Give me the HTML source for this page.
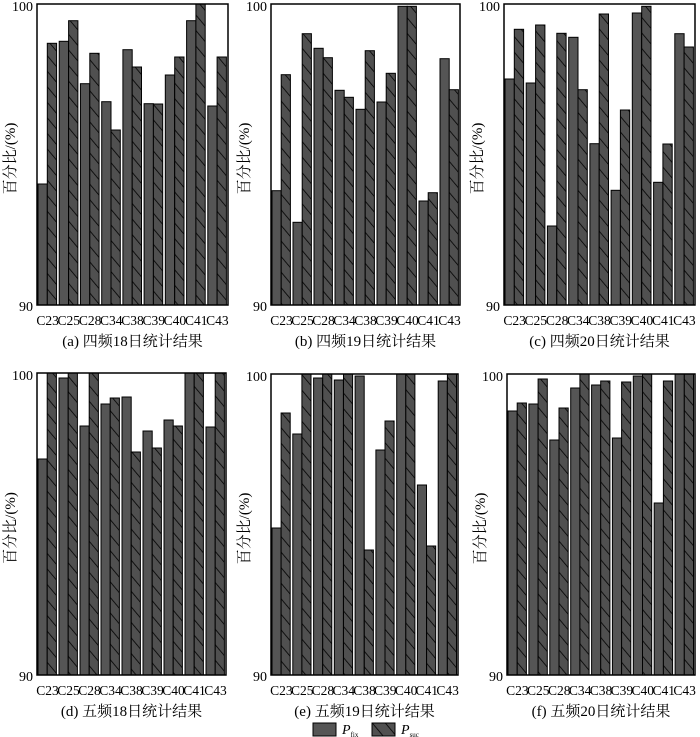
<!DOCTYPE html>
<html><head><meta charset="utf-8"><style>
html,body{margin:0;padding:0;background:#fff;}
svg{display:block;}
text{font-family:"Liberation Serif","Noto Serif CJK SC",serif;fill:#000;}
</style></head><body>
<svg id="s" width="700" height="737" xmlns="http://www.w3.org/2000/svg">
<defs>
<pattern id="h" patternUnits="userSpaceOnUse" width="10" height="10" patternTransform="rotate(-40)">
<rect width="10" height="10" fill="#505050"/>
<line x1="0" y1="0" x2="0" y2="10" stroke="#000" stroke-width="1.6"/>
</pattern>
</defs>
</svg>
<script>
var P=[
{x0:37,x1:228,t:4,b:305,cap:"(a) 四频18日统计结果",
f:[184,41.3,83.7,101.7,49.7,103.7,75,20.7,106],s:[43.3,20.7,53.3,130,67,104,57,4,57]},
{x0:271,x1:460,t:4,b:305,cap:"(b) 四频19日统计结果",
f:[190.7,222.3,48.3,90.3,109.3,102,6.3,201,58.7],s:[74.7,33.7,57.7,97.3,50.7,73.3,6.3,192.7,89.7]},
{x0:504,x1:695,t:4,b:305,cap:"(c) 四频20日统计结果",
f:[79,83,226,37.3,143.7,190.3,13,182.3,33.7],s:[29.3,25,33.3,89.7,14,110,6.3,144,47]},
{x0:37,x1:226,t:373,b:675,cap:"(d) 五频18日统计结果",
f:[459,378,426,404,397,431,420,373,427],s:[373,373,373,398,452,448,426,373,373]},
{x0:271,x1:458,t:374,b:675,cap:"(e) 五频19日统计结果",
f:[528,434,378,380,376,450,374,485,381],s:[413,374,374,374,550,421,374,546,374]},
{x0:507,x1:695,t:374,b:675,cap:"(f) 五频20日统计结果",
f:[411,404,440,388,385,438,376,503,374],s:[403,379,408,374,381,382,374,381,374]}];
var L=["C23","C25","C28","C34","C38","C39","C40","C41","C43"];
var h='';
P.forEach(function(p){
 var W=p.x1-p.x0,g=W/9,bw=g*0.44;
 for(var i=0;i<9;i++){
  var gx=p.x0+i*g+1;
  h+='<rect x="'+gx.toFixed(1)+'" y="'+p.f[i]+'" width="'+bw.toFixed(1)+'" height="'+(p.b-p.f[i]).toFixed(1)+'" fill="#555" stroke="#000" stroke-width="1"/>';
  h+='<rect x="'+(gx+bw).toFixed(1)+'" y="'+p.s[i]+'" width="'+bw.toFixed(1)+'" height="'+(p.b-p.s[i]).toFixed(1)+'" fill="url(#h)" stroke="#000" stroke-width="1"/>';
  h+='<text x="'+(p.x0+i*g+g/2).toFixed(1)+'" y="'+(p.b+20)+'" font-size="13.5" text-anchor="middle">'+L[i]+'</text>';
 }
 h+='<rect x="'+p.x0+'" y="'+p.t+'" width="'+W+'" height="'+(p.b-p.t)+'" fill="none" stroke="#000" stroke-width="1.5"/>';
 h+='<text x="'+(p.x0-4)+'" y="'+(p.t+7)+'" font-size="14" text-anchor="end">100</text>';
 h+='<text x="'+(p.x0-4)+'" y="'+(p.b+6)+'" font-size="14" text-anchor="end">90</text>';
 var cy=(p.t+p.b)/2+4;
 h+='<text transform="translate('+(p.x0-22)+','+cy+') rotate(-90)" font-size="15" text-anchor="middle">百分比/(%)</text>';
 h+='<text x="'+(p.x0+W/2)+'" y="'+(p.b+41)+'" font-size="15" text-anchor="middle">'+p.cap+'</text>';
});
h+='<rect x="313" y="723" width="23" height="13" fill="#555" stroke="#000"/>';
h+='<text x="342" y="734" font-size="14" font-style="italic">P<tspan font-size="7" font-style="normal" dy="3">fix</tspan></text>';
h+='<rect x="372" y="723" width="23" height="13" fill="url(#h)" stroke="#000"/>';
h+='<text x="401" y="734" font-size="14" font-style="italic">P<tspan font-size="7" font-style="normal" dy="3">suc</tspan></text>';
document.getElementById('s').insertAdjacentHTML('beforeend',h);
</script>
</body></html>
